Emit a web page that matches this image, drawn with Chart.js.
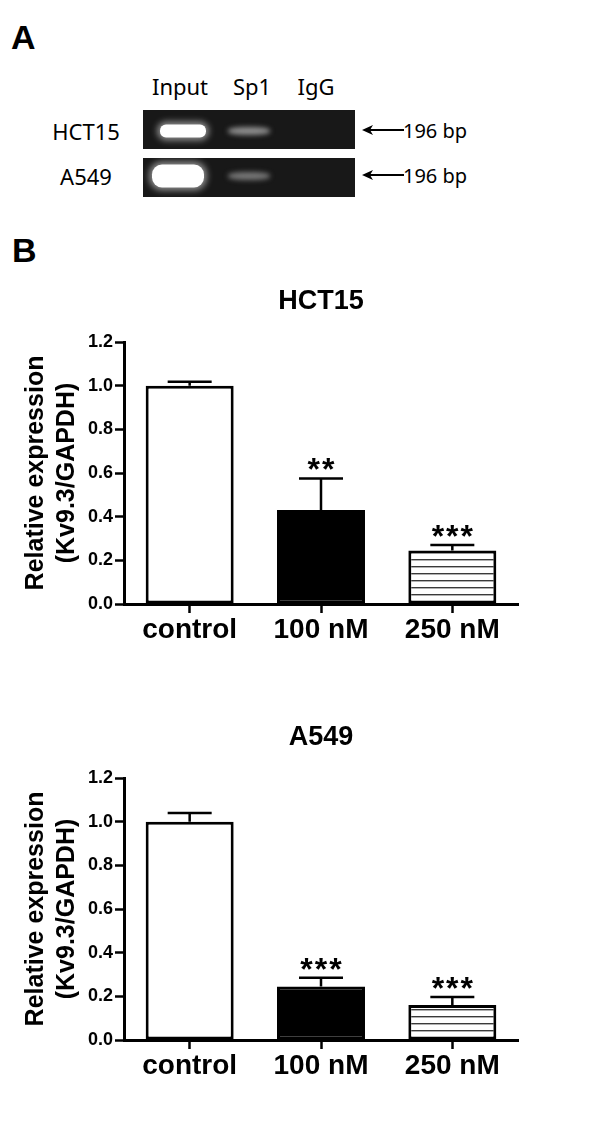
<!DOCTYPE html>
<html>
<head>
<meta charset="utf-8">
<script src="https://cdn.jsdelivr.net/npm/chart.js@4.4.1/dist/chart.umd.min.js"></script>
<style>
  body { margin: 0; background: #fff; width: 600px; height: 1135px; position: relative; overflow: hidden; font-family: "Liberation Sans", Arial, sans-serif; }
  .abs { position: absolute; }
  .panel { font-weight: bold; color: #000; line-height: 1; }
  .gl { font-family: "Noto Sans", sans-serif; font-size: 22px; color: #000; line-height: 1; transform: translate(-50%, -50%); white-space: nowrap; }
  .gel { background: #181818; left: 143px; width: 212px; height: 39px; overflow: hidden; }
  .band { transform: translate(-50%, -50%); }
  canvas { position: absolute; left: 0; }
</style>
</head>
<body>
<div class="abs panel" style="left:11px;top:20px;font-size:34px">A</div>
<div class="abs panel" style="left:12px;top:233px;font-size:34px">B</div>

<div id="gelA"></div>

<canvas id="hct" width="540" height="399" style="top:262px"></canvas>
<canvas id="a549" width="540" height="399" style="top:698px"></canvas>

<script>
// chart data
const groups = ['control', '100 nM', '250 nM'];
const hctMean = [1.0, 0.43, 0.245];
const hctErr = [0.018, 0.145, 0.025];
const hctStars = ['', '**', '***'];
const a549Mean = [1.0, 0.245, 0.16];
const a549Err = [0.04, 0.04, 0.037];
const a549Stars = ['', '***', '***'];
const yTicks = [0, 0.2, 0.4, 0.6, 0.8, 1.0, 1.2];

// gel panel
const laneNames = ['Input', 'Sp1', 'IgG'];
const cellLines = ['HCT15', 'A549'];
const bandHct = [1.0, 0.42, 0.0];
const bandA549 = [1.0, 0.3, 0.0];

const family = '"Liberation Sans", Arial, sans-serif';

//build the gel picture
function buildGel() {
  let host = document.getElementById('gelA');
  let html = '';
  let laneX = [180, 252, 316];
  laneNames.forEach((n, i) => {
    html += `<div class="abs gl" style="left:${laneX[i]}px;top:86px">${n}</div>`;
  });
  let rows = [
    { top: 110, cy: 131, label: cellLines[0], bands: bandHct, size: [[46, 13], [42, 8]], rad: 6 },
    { top: 158, cy: 176, label: cellLines[1], bands: bandA549, size: [[52, 23], [42, 8]], rad: 10 },
  ];
  rows.forEach(r => {
    html += `<div class="abs gl" style="left:86px;top:${r.cy}px">${r.label}</div>`;
    let inner = '';
    let bx = [183 - 143, 249 - 143];
    r.bands.forEach((b, i) => {
      if (!b || i > 1) return;
      let [w, h] = r.size[i];
      let c = Math.round(60 + 195 * b);
      let glow = b > 0.8 ? `box-shadow:0 0 6px 3px rgba(255,255,255,0.5);border-radius:${r.rad}px;` : `filter:blur(2.5px);border-radius:40%;`;
      inner += `<div class="abs band" style="left:${bx[i] - (r.label == 'A549' && i == 0 ? 5 : 0)}px;top:${r.cy - r.top}px;width:${w}px;height:${h}px;background:rgb(${c},${c},${c});${glow}"></div>`;
    });
    html += `<div class="abs gel" style="top:${r.top}px;">${inner}</div>`;
    let ay = r.cy - 1;
    html += `<svg class="abs" style="left:360px;top:${ay - 8}px" width="46" height="16">
      <line x1="6" y1="8" x2="44" y2="8" stroke="#000" stroke-width="2"/>
      <path d="M2 8 L13 3 L10 8 L13 13 Z" fill="#000"/></svg>`;
    html += `<div class="abs gl" style="left:435px;top:${ay + 1}px;font-size:20px">196 bp</div>`;
  });
  host.innerHTML = html;
}
buildGel();

//horizontal stripe fill for the last bar
function hatch() {
  let c = document.createElement('canvas');
  c.width = 8; c.height = 7;
  let g = c.getContext('2d');
  g.fillStyle = '#fff';
  g.fillRect(0, 0, 8, 7);
  g.fillStyle = '#3a3a3a';
  g.fillRect(0, 3, 8, 1.4);
  return g.createPattern(c, 'repeat');
}

//error bars + stars on top of bars
const errPlugin = {
  id: 'errbars',
  afterDatasetsDraw(chart, args, opts) {
    const ctx = chart.ctx;
    const y = chart.scales.y;
    const meta = chart.getDatasetMeta(0);
    ctx.save();
    ctx.strokeStyle = '#000';
    ctx.lineWidth = 2.5;
    meta.data.forEach((bar, i) => {
      let top = y.getPixelForValue(opts.mean[i] + opts.err[i]);
      ctx.beginPath();
      ctx.moveTo(bar.x, bar.y);
      ctx.lineTo(bar.x, top);
      ctx.moveTo(bar.x - 22, top);
      ctx.lineTo(bar.x + 22, top);
      ctx.stroke();
      if (opts.stars[i]) {
        ctx.fillStyle = '#000';
        ctx.font = 'bold 32px ' + family;
        ctx.letterSpacing = '2px';
        ctx.textAlign = 'center';
        ctx.textBaseline = 'alphabetic';
        ctx.fillText(opts.stars[i], bar.x + 1, top + 2);
      }
    });
    ctx.restore();
  }
};

function axisLook() {
  return {
    grid: { display: true, drawOnChartArea: false, drawTicks: true, tickLength: 9, tickWidth: 2.5, tickColor: '#000' },
    border: { display: true, color: '#000', width: 3 },
  };
}

function makeChart(id, title, mean, err, stars) {
  let x = axisLook();
  x.grid.offset = false;
  let y = axisLook();
  return new Chart(document.getElementById(id), {
    type: 'bar',
    data: {
      labels: groups,
      datasets: [{
        data: mean,
        backgroundColor: ['#fff', '#000', hatch()],
        borderColor: '#000',
        borderWidth: 3,
        borderSkipped: false,
        categoryPercentage: 1,
        barPercentage: 0.67,
      }],
    },
    options: {
      responsive: false,
      animation: false,
      layout: { padding: { left: 0, right: 22, top: 0, bottom: 0 } },
      plugins: {
        legend: { display: false },
        tooltip: { enabled: false },
        title: {
          display: true, text: title, fullSize: false, color: '#000',
          font: { size: 27, weight: 'bold', family: family, lineHeight: 1.2 },
          padding: { top: 23, bottom: 24.6 },
        },
        errbars: { mean: mean, err: err, stars: stars },
      },
      scales: {
        x: {
          ...x,
          ticks: { color: '#000', maxRotation: 0, autoSkip: false, padding: 0, font: { size: 28, weight: 'bold', family: family } },
          afterFit(s) { s.height = 57; },
        },
        y: {
          ...y,
          min: 0,
          max: 1.2,
          afterBuildTicks(s) { s.ticks = yTicks.map(v => ({ value: v })); },
          ticks: { color: '#000', padding: 2, font: { size: 18, weight: 'bold', family: family }, callback: v => Number(v).toFixed(1) },
          title: {
            display: true,
            text: ['Relative expression', '(Kv9.3/GAPDH)'],
            color: '#000',
            font: { size: 25, weight: 'bold', family: family, lineHeight: 1.25 },
            padding: { top: 20, bottom: 0 },
          },
          afterFit(s) { s.width = 124; },
        },
      },
    },
    plugins: [errPlugin],
  });
}

makeChart('hct', 'HCT15', hctMean, hctErr, hctStars);
makeChart('a549', 'A549', a549Mean, a549Err, a549Stars);
</script>
</body>
</html>
